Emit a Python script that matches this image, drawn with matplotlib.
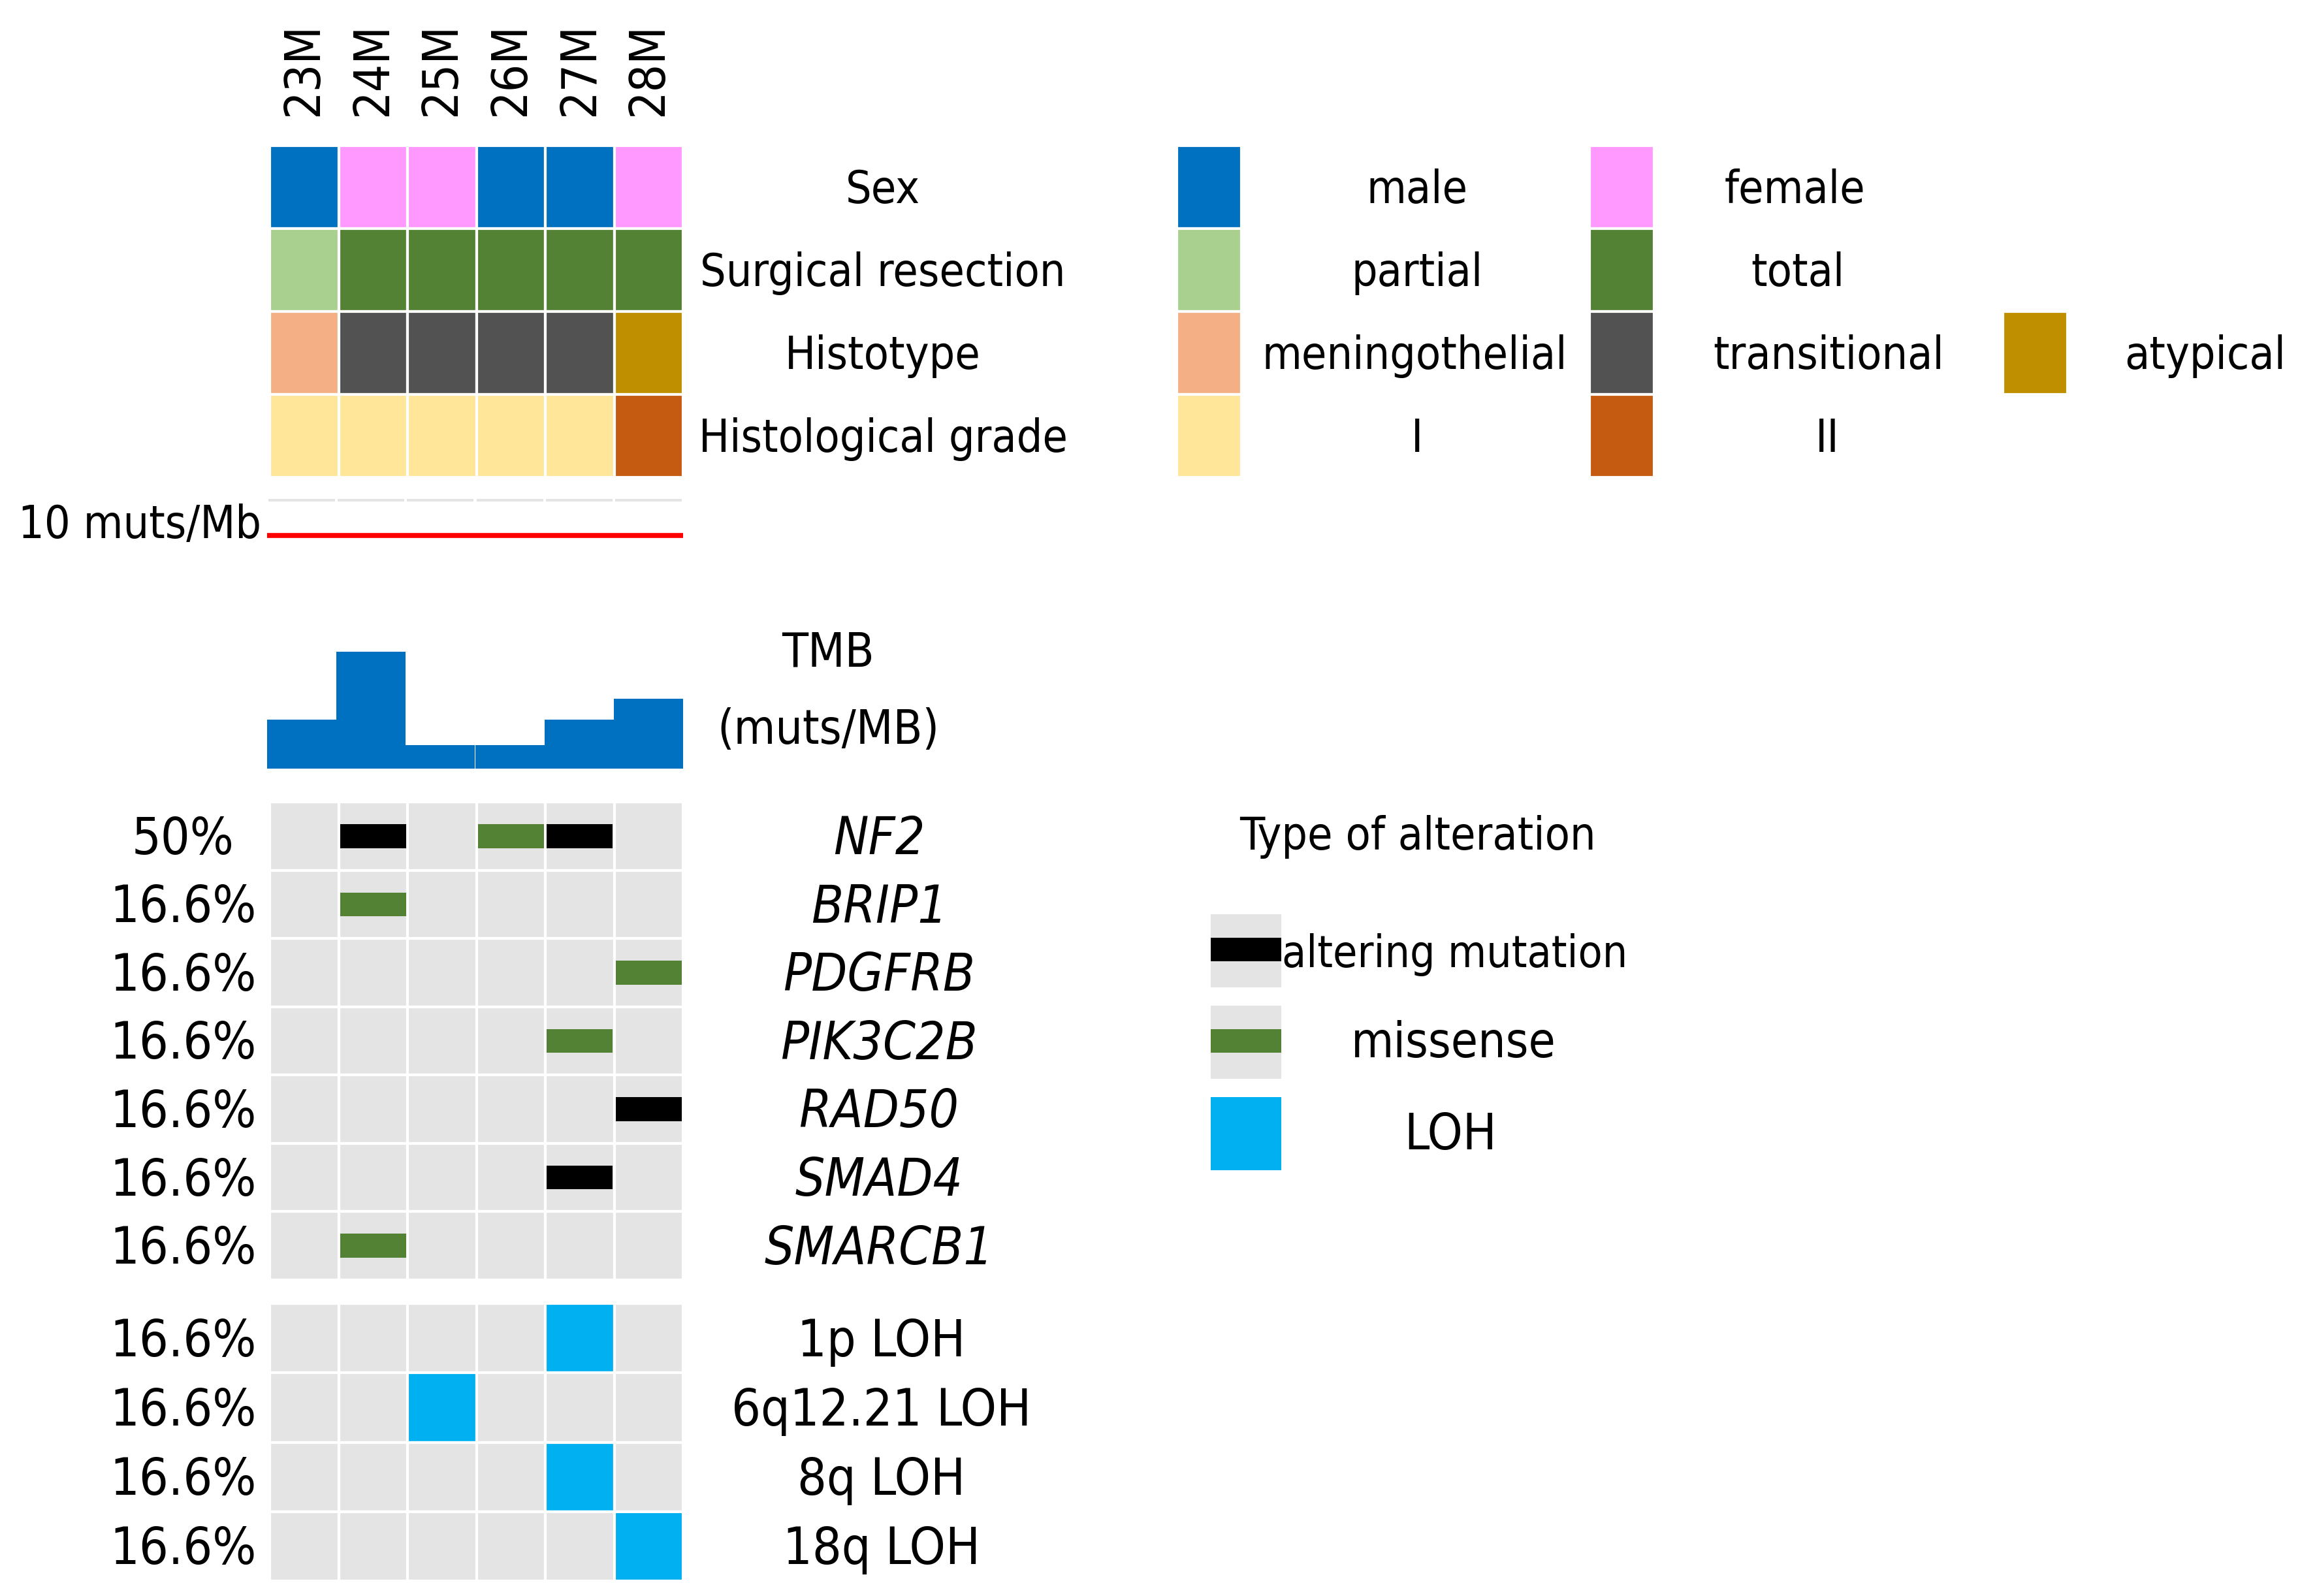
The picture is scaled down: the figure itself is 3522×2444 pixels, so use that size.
import os
import numpy as np
import matplotlib
matplotlib.use("Agg")
import matplotlib.pyplot as plt
from matplotlib import font_manager, transforms
from matplotlib.font_manager import FontProperties
from matplotlib.patches import Rectangle

# ---------------- data ----------------
samples = ["23M", "24M", "25M", "26M", "27M", "28M"]
sex = ["male", "female", "female", "male", "male", "female"]
resection = ["partial", "total", "total", "total", "total", "total"]
histotype = ["meningothelial", "transitional", "transitional", "transitional", "transitional", "atypical"]
grade = ["I", "I", "I", "I", "I", "II"]
annot_names = ["Sex", "Surgical resection", "Histotype", "Histological grade"]

tmb = [2.1, 5.0, 1.0, 1.0, 2.1, 3.0]
tmb_threshold = 10

genes = ["NF2", "BRIP1", "PDGFRB", "PIK3C2B", "RAD50", "SMAD4", "SMARCB1"]
gene_pct = ["50%", "16.6%", "16.6%", "16.6%", "16.6%", "16.6%", "16.6%"]
mut_gene = ["NF2", "NF2", "NF2", "BRIP1", "PDGFRB", "PIK3C2B", "RAD50", "SMAD4", "SMARCB1"]
mut_sample = ["24M", "26M", "27M", "24M", "28M", "27M", "28M", "27M", "24M"]
mut_type = ["altering mutation", "missense", "altering mutation", "missense", "missense",
            "missense", "altering mutation", "altering mutation", "missense"]

loh_regions = ["1p LOH", "6q12.21 LOH", "8q LOH", "18q LOH"]
loh_pct = ["16.6%", "16.6%", "16.6%", "16.6%"]
loh_sample = ["27M", "25M", "27M", "28M"]

# ---------------- style ----------------
colors = {
    "male": "#0070C0", "female": "#FF99FF",
    "partial": "#A9D08E", "total": "#548235",
    "meningothelial": "#F4B084", "transitional": "#525252", "atypical": "#BF8F00",
    "I": "#FFE699", "II": "#C55A11",
    "altering mutation": "#000000", "missense": "#548235", "LOH": "#00B0F0",
}
GREY = "#E4E4E4"
TMB_COLOR = "#0070C0"


# ---- pick a narrow / condensed sans font if one is installed ----
def pick_font(italic):
    prefs = ["liberationsansnarrow", "notosans-condensed", "dejavusanscondensed",
             "robotocondensed", "opensans-condensed", "opensans_condensed", "arialn"]
    bad = ["bold", "light", "medium", "black", "thin", "semi", "extra"]
    for key in prefs:
        for f in font_manager.fontManager.ttflist:
            b = os.path.basename(f.fname).lower().replace(" ", "")
            if key in b and not any(x in b for x in bad):
                is_it = ("italic" in b) or ("oblique" in b)
                if is_it == italic:
                    return f.fname
    return None


REG_PATH = pick_font(False)
IT_PATH = pick_font(True) or REG_PATH


def fprop(size, italic=False):
    path = IT_PATH if italic else REG_PATH
    if path:
        return FontProperties(fname=path, size=size)
    return FontProperties(family=["Liberation Sans", "DejaVu Sans"], size=size,
                          style="italic" if italic else "normal")


def cap_ratio(italic=False):
    path = IT_PATH if italic else REG_PATH
    try:
        from matplotlib.ft2font import FT2Font
        ft = FT2Font(path)
        c = ft.get_sfnt_table("OS/2")["sCapHeight"] / ft.units_per_EM
        if 0.5 < c < 0.85:
            return c
    except Exception:
        pass
    return 0.70


W, H = 3522, 2444
fig = plt.figure(figsize=(W / 100, H / 100), dpi=100)
renderer = fig.canvas.get_renderer()


def fit_size(s, target_px, italic=False, base=60):
    t = fig.text(0, 0, s, fontproperties=fprop(base, italic))
    w = t.get_window_extent(renderer).width
    t.remove()
    return base * target_px / w


FS = fit_size("Surgical resection", 560)          # annotation / legend text
FS_IT = fit_size("SMARCB1", 351, italic=True)      # gene names
FS2 = fit_size("6q12.21 LOH", 460)                 # percent / LOH labels
FS_TMB = fit_size("(muts/MB)", 340)                # TMB caption
FS_SAMPLE = FS * 1.07
CAP = cap_ratio() / 2
CAP_IT = cap_ratio(True) / 2


def add_ax(x0, y0, x1, y1):
    ax = fig.add_axes([x0 / W, 1 - y1 / H, (x1 - x0) / W, (y1 - y0) / H])
    ax.set_axis_off()
    return ax


ov = add_ax(0, 0, W, H)
ov.set_xlim(0, W)
ov.set_ylim(H, 0)


def ctext(trans, x, y, s, size, italic=False, **kw):
    """Place text so that its cap-height centre sits at y."""
    c = CAP_IT if italic else CAP
    t = transforms.offset_copy(trans, fig=fig, x=0, y=-c * size, units="points")
    ov.text(x, y, s, transform=t, va="baseline", fontproperties=fprop(size, italic), **kw)


def btext(x, y, s, size, **kw):
    ov.text(x, y, s, va="baseline", fontproperties=fprop(size), **kw)


# ---------------- annotation heatmap ----------------
annot_rows = [sex, resection, histotype, grade]
ax_a = add_ax(413, 223, 1046, 731)
ax_a.set_xlim(0, len(samples))
ax_a.set_ylim(len(annot_rows), 0)
for r, row in enumerate(annot_rows):
    ax_a.bar(np.arange(len(samples)), 1, bottom=r, width=1, align="edge",
             color=[colors[v] for v in row], edgecolor="white", linewidth=3)

bl_a = transforms.blended_transform_factory(ov.transData, ax_a.transData)
for r, name in enumerate(annot_names):
    ctext(bl_a, 1352, r + 0.5, name, FS, ha="center")

# sample labels
bl_s = transforms.blended_transform_factory(ax_a.transData, ov.transData)
for i, s in enumerate(samples):
    ov.text(i + 0.5, 178, s, transform=bl_s, rotation=90, ha="center", va="bottom",
            fontproperties=fprop(FS_SAMPLE))

# annotation legend
legend_rows = [
    [("male", 2170), ("female", 2748)],
    [("partial", 2170), ("total", 2753)],
    [("meningothelial", 2166), ("transitional", 2800), ("atypical", 3377)],
    [("I", 2170), ("II", 2798)],
]
patch_x = [1802, 2434, 3067]
for r, items in enumerate(legend_rows):
    for c, (lab, tx) in enumerate(items):
        ov.add_patch(Rectangle((patch_x[c], r), 99, 1, transform=bl_a,
                               facecolor=colors[lab], edgecolor="white", linewidth=3))
        ctext(bl_a, tx, r + 0.5, lab, FS, ha="center")

# ---------------- TMB ----------------
ax_t = add_ax(409, 760, 1046, 1177)
ax_t.set_xlim(0, len(samples))
ax_t.set_ylim(0, 11.68)
ax_t.bar(np.arange(len(samples)), tmb, width=1, align="edge", color=TMB_COLOR, linewidth=0)
ax_t.axhline(tmb_threshold, color="#FF0000", linewidth=5.5)
ax_t.hlines([11.5] * len(samples), np.arange(len(samples)) + 0.02, np.arange(len(samples)) + 0.98,
            color=GREY, linewidth=2.9)
btext(400, 824, "%d muts/Mb" % tmb_threshold, FS, ha="right")
ctext(ov.transData, 1268, 995, "TMB", FS_TMB, ha="center")
ctext(ov.transData, 1268, 1113, "(muts/MB)", FS_TMB, ha="center")

# ---------------- mutations ----------------
ax_m = add_ax(413, 1228, 1046, 1960)
ax_m.set_xlim(0, len(samples))
ax_m.set_ylim(len(genes), 0)
for r in range(len(genes)):
    ax_m.bar(np.arange(len(samples)), 1, bottom=r, width=1, align="edge",
             color=GREY, edgecolor="white", linewidth=3)
bar_h = 0.35
for g, s, t in zip(mut_gene, mut_sample, mut_type):
    r = genes.index(g)
    c = samples.index(s)
    ax_m.bar(c + 0.5, bar_h, bottom=r + 0.5 - bar_h / 2, width=0.96, color=colors[t], linewidth=0)

bl_m = transforms.blended_transform_factory(ov.transData, ax_m.transData)
for r, (g, p) in enumerate(zip(genes, gene_pct)):
    ctext(bl_m, 280, r + 0.5, p, FS2, ha="center")
    ctext(bl_m, 1346, r + 0.5, g, FS_IT, italic=True, ha="center")

# ---------------- LOH ----------------
ax_l = add_ax(413, 1996, 1046, 2421)
ax_l.set_xlim(0, len(samples))
ax_l.set_ylim(len(loh_regions), 0)
for r, s in enumerate(loh_sample):
    cols = [colors["LOH"] if smp == s else GREY for smp in samples]
    ax_l.bar(np.arange(len(samples)), 1, bottom=r, width=1, align="edge",
             color=cols, edgecolor="white", linewidth=3)
bl_l = transforms.blended_transform_factory(ov.transData, ax_l.transData)
for r, (reg, p) in enumerate(zip(loh_regions, loh_pct)):
    ctext(bl_l, 280, r + 0.5, p, FS2, ha="center")
    ctext(bl_l, 1350, r + 0.5, reg, FS2, ha="center")

# ---------------- alteration legend ----------------
ctext(ov.transData, 2171, 1277, "Type of alteration", FS, ha="center")
ov.add_patch(Rectangle((1854, 1400), 108, 112, facecolor=GREY, linewidth=0))
ov.add_patch(Rectangle((1854, 1436), 108, 36, facecolor=colors["altering mutation"], linewidth=0))
ov.add_patch(Rectangle((1854, 1540), 108, 112, facecolor=GREY, linewidth=0))
ov.add_patch(Rectangle((1854, 1576), 108, 36, facecolor=colors["missense"], linewidth=0))
ov.add_patch(Rectangle((1854, 1680), 108, 112, facecolor=colors["LOH"], linewidth=0))
btext(1963, 1481, "altering mutation", FS * 0.97, ha="left")
btext(2226, 1619, "missense", FS * 1.07, ha="center")
btext(2221, 1760, "LOH", FS * 1.1, ha="center")

fig.savefig("out.png", dpi=100, facecolor="white")
